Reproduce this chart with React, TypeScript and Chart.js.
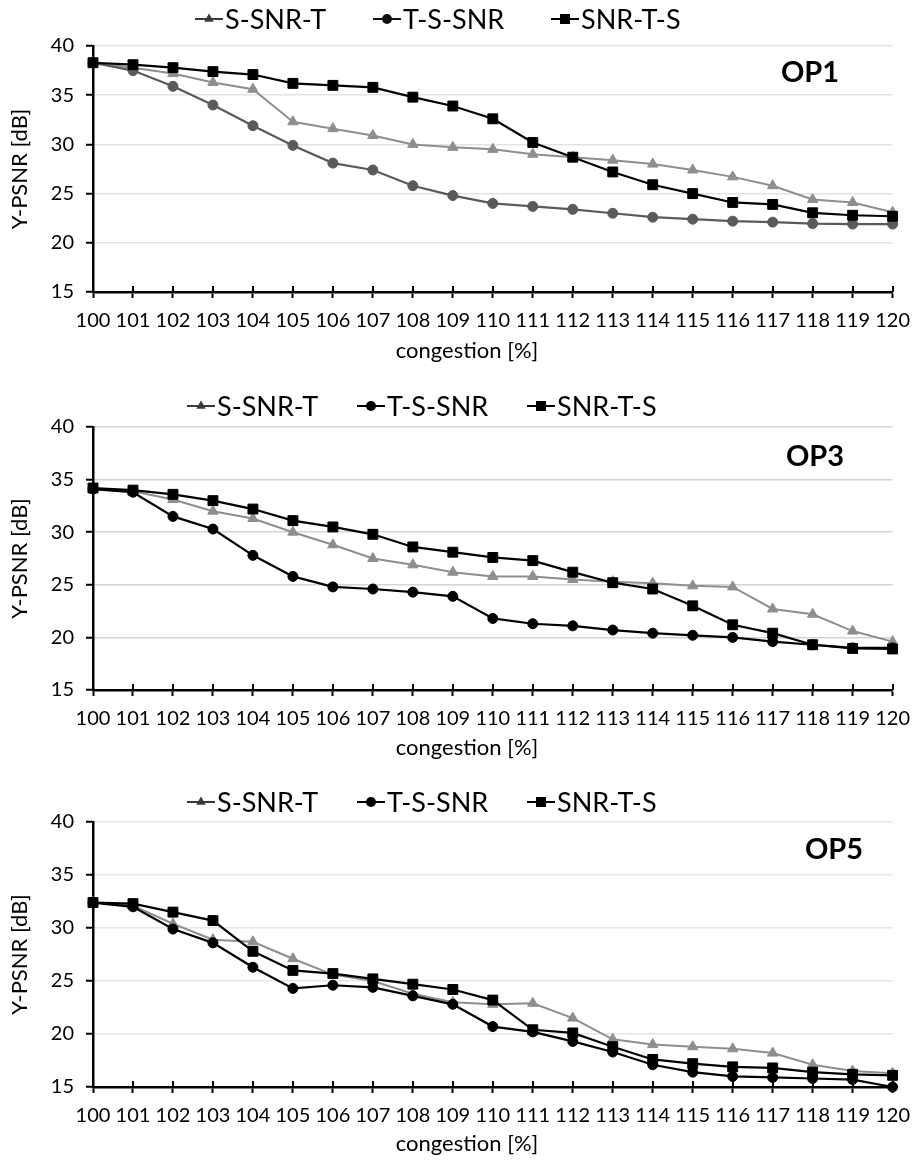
import React, { useEffect, useRef } from "react";
import { Chart, registerables } from "chart.js";

Chart.register(...registerables);

const categories = ["100", "101", "102", "103", "104", "105", "106", "107", "108", "109", "110", "111", "112", "113", "114", "115", "116", "117", "118", "119", "120"];
const seriesNames = ["S-SNR-T", "T-S-SNR", "SNR-T-S"];
const yTickValues = [15, 20, 25, 30, 35, 40];
const xAxisTitle = "congestion [%]";
const yAxisTitle = "Y-PSNR [dB]";

// OP1
const op1SSNRT = [38.3, 37.8, 37.2, 36.3, 35.6, 32.3, 31.6, 30.9, 30.0, 29.7, 29.5, 29.0, 28.7, 28.4, 28.0, 27.4, 26.7, 25.8, 24.4, 24.1, 23.1];
const op1TSSNR = [38.3, 37.5, 35.9, 34.0, 31.9, 29.9, 28.1, 27.4, 25.8, 24.8, 24.0, 23.7, 23.4, 23.0, 22.6, 22.4, 22.2, 22.1, 21.95, 21.9, 21.9];
const op1SNRTS = [38.3, 38.1, 37.8, 37.4, 37.1, 36.2, 36.0, 35.8, 34.8, 33.9, 32.6, 30.2, 28.7, 27.2, 25.9, 25.0, 24.1, 23.9, 23.05, 22.8, 22.7];

// OP3
const op3SSNRT = [34.1, 33.9, 33.1, 32.0, 31.3, 30.0, 28.8, 27.5, 26.9, 26.2, 25.8, 25.8, 25.5, 25.3, 25.15, 24.9, 24.8, 22.7, 22.2, 20.6, 19.6];
const op3TSSNR = [34.1, 33.8, 31.5, 30.3, 27.8, 25.8, 24.8, 24.6, 24.3, 23.9, 21.8, 21.3, 21.1, 20.7, 20.4, 20.2, 20.0, 19.6, 19.3, 19.0, 19.0];
const op3SNRTS = [34.2, 34.0, 33.6, 33.0, 32.2, 31.1, 30.5, 29.8, 28.6, 28.1, 27.6, 27.3, 26.2, 25.2, 24.6, 23.0, 21.2, 20.4, 19.3, 18.95, 18.9];

// OP5
const op5SSNRT = [32.4, 32.1, 30.4, 28.9, 28.7, 27.1, 25.6, 25.0, 23.8, 23.0, 22.8, 22.9, 21.5, 19.5, 19.0, 18.8, 18.6, 18.2, 17.1, 16.5, 16.3];
const op5TSSNR = [32.4, 32.0, 29.9, 28.6, 26.3, 24.3, 24.6, 24.4, 23.6, 22.8, 20.7, 20.2, 19.3, 18.3, 17.1, 16.4, 16.0, 15.9, 15.8, 15.7, 15.0];
const op5SNRTS = [32.4, 32.3, 31.5, 30.7, 27.8, 26.0, 25.7, 25.2, 24.7, 24.2, 23.2, 20.4, 20.1, 18.8, 17.6, 17.2, 16.9, 16.8, 16.4, 16.2, 16.1];

const FONT = "Lato, 'Open Sans', sans-serif";

type PanelCfg = {
  label: string;
  height: number;
  values: number[][];
  lineColors: string[];
  legendColors: string[];
  gridColor: string;
  top: number;
  bottom: number;
  xTitleY: number;
  legendX: number;
  legendStep: number;
  legendY: number;
  labelX: number;
  labelY: number;
};

const panels: PanelCfg[] = [
  {
    label: "OP1", height: 388, values: [op1SSNRT, op1TSSNR, op1SNRTS],
    lineColors: ["#8e8e8e", "#5a5a5a", "#000000"], legendColors: ["#3a3a3a", "#111111", "#000000"],
    gridColor: "#e3e3e3", top: 46, bottom: 292, xTitleY: 351,
    legendX: 195, legendStep: 178, legendY: 19, labelX: 810, labelY: 73,
  },
  {
    label: "OP3", height: 387, values: [op3SSNRT, op3TSSNR, op3SNRTS],
    lineColors: ["#8e8e8e", "#000000", "#000000"], legendColors: ["#3a3a3a", "#000000", "#000000"],
    gridColor: "#d4d4d4", top: 39, bottom: 302, xTitleY: 360,
    legendX: 187, legendStep: 170, legendY: 18, labelX: 815, labelY: 69,
  },
  {
    label: "OP5", height: 389, values: [op5SSNRT, op5TSSNR, op5SNRTS],
    lineColors: ["#8e8e8e", "#000000", "#000000"], legendColors: ["#3a3a3a", "#000000", "#000000"],
    gridColor: "#e6e6e6", top: 47, bottom: 312, xTitleY: 369,
    legendX: 187, legendStep: 170, legendY: 27, labelX: 834, labelY: 75,
  },
];

const pointStyles = ["triangle", "circle", "rect"];
const pointRadii = [6, 5, 7];

function drawMarker(ctx: CanvasRenderingContext2D, style: string, x: number, y: number, r: number) {
  ctx.beginPath();
  if (style === "triangle") {
    ctx.moveTo(x, y - r);
    ctx.lineTo(x + r * 0.866, y + r * 0.5);
    ctx.lineTo(x - r * 0.866, y + r * 0.5);
    ctx.closePath();
  } else if (style === "circle") {
    ctx.arc(x, y, r, 0, Math.PI * 2);
  } else {
    ctx.rect(x - r, y - r, 2 * r, 2 * r);
  }
  ctx.fill();
}

function Panel({ cfg }: { cfg: PanelCfg }) {
  const ref = useRef<HTMLCanvasElement>(null);
  useEffect(() => {
    if (!ref.current) return;
    const decor = {
      id: "decor",
      beforeDatasetsDraw(chart: any) {
        const { ctx, chartArea } = chart;
        const xs = chart.scales.x;
        ctx.save();
        ctx.strokeStyle = "#000";
        ctx.lineWidth = 2;
        for (let i = 0; i < xs.ticks.length; i++) {
          const px = Math.round(xs.getPixelForTick(i));
          ctx.beginPath();
          ctx.moveTo(px, chartArea.bottom - 6);
          ctx.lineTo(px, chartArea.bottom);
          ctx.stroke();
        }
        ctx.restore();
      },
      afterDraw(chart: any) {
        const { ctx } = chart;
        ctx.save();
        // legend
        ctx.font = `27px ${FONT}`;
        ctx.textBaseline = "middle";
        ctx.textAlign = "left";
        let x = cfg.legendX;
        const y = cfg.legendY;
        chart.data.datasets.forEach((ds: any, i: number) => {
          const col = cfg.legendColors[i];
          ctx.strokeStyle = col;
          ctx.fillStyle = col;
          ctx.lineWidth = 2;
          ctx.beginPath();
          ctx.moveTo(x, y);
          ctx.lineTo(x + 28, y);
          ctx.stroke();
          drawMarker(ctx, pointStyles[i], x + 14, y, i === 0 ? 5.5 : 5);
          ctx.fillStyle = "#000";
          ctx.fillText(ds.label, x + 30, y + 1);
          x += cfg.legendStep;
        });
        // x axis title
        ctx.font = `22px ${FONT}`;
        ctx.textAlign = "center";
        ctx.fillStyle = "#000";
        ctx.fillText(xAxisTitle, 467, cfg.xTitleY);
        // OP label
        ctx.font = `bold 29px ${FONT}`;
        ctx.fillText(cfg.label, cfg.labelX, cfg.labelY);
        ctx.restore();
      },
    };
    const chart = new Chart(ref.current, {
      type: "line",
      data: {
        labels: categories,
        datasets: cfg.values.map((vals, i) => ({
          label: seriesNames[i],
          data: vals,
          borderColor: cfg.lineColors[i],
          backgroundColor: cfg.lineColors[i],
          pointBackgroundColor: cfg.lineColors[i],
          pointBorderColor: cfg.lineColors[i],
          pointBorderWidth: 1,
          borderWidth: i === 0 ? 2 : 2.2,
          pointStyle: pointStyles[i] as any,
          pointRadius: pointRadii[i],
          pointHoverRadius: pointRadii[i],
          tension: 0,
          fill: false,
          clip: false as any,
          order: 2 - i,
        })),
      },
      options: {
        responsive: false,
        animation: false,
        devicePixelRatio: 1,
        layout: { padding: { top: cfg.top, left: 0, right: 24, bottom: 0 } },
        plugins: {
          legend: { display: false },
          title: { display: false },
          tooltip: { enabled: false },
        },
        scales: {
          x: {
            type: "category",
            offset: false,
            grid: { display: true, drawOnChartArea: false, tickLength: 6, tickColor: "#000", tickWidth: 2 },
            border: { color: "#000", width: 2.5 },
            ticks: { autoSkip: false, maxRotation: 0, minRotation: 0, padding: 11, color: "#000", font: { family: FONT, size: 20 } },
            title: { display: false, text: xAxisTitle },
            afterFit: (s: any) => { s.height = cfg.height - cfg.bottom; },
          },
          y: {
            type: "linear",
            min: 15,
            max: 40,
            afterBuildTicks: (s: any) => {
              const t: any[] = [];
              for (let i = 0; i < yTickValues.length; i++) {
                t.push({ value: yTickValues[i] });
                if (i < yTickValues.length - 1) t.push({ value: (yTickValues[i] + yTickValues[i + 1]) / 2 });
              }
              s.ticks = t;
            },
            grid: {
              color: (c: any) => (yTickValues.includes(c.tick?.value) && c.tick.value !== 15 ? cfg.gridColor : "rgba(0,0,0,0)"),
              tickColor: "#000",
              tickLength: 7,
              tickWidth: 2,
              lineWidth: 1.5,
            },
            border: { color: "#000", width: 2.5 },
            ticks: {
              color: "#000",
              padding: 12,
              font: { family: FONT, size: 20 },
              callback: (v: any) => (yTickValues.includes(Number(v)) ? String(v) : ""),
            },
            title: { display: true, text: yAxisTitle, color: "#000", font: { family: FONT, size: 22 }, padding: { top: 7, bottom: 0 } },
            afterFit: (s: any) => { s.width = 93; },
          },
        },
      },
      plugins: [decor],
    });
    return () => chart.destroy();
  }, [cfg]);
  return (
    <div style={{ width: 921, height: cfg.height }}>
      <canvas ref={ref} width={921} height={cfg.height} style={{ display: "block", width: 921, height: cfg.height }} />
    </div>
  );
}

export default function App() {
  useEffect(() => {
    document.body.style.margin = "0";
    document.body.style.background = "#fff";
  }, []);
  return (
    <div style={{ width: 921, height: 1164, background: "#fff" }}>
      {panels.map((p) => (
        <Panel key={p.label} cfg={p} />
      ))}
    </div>
  );
}
